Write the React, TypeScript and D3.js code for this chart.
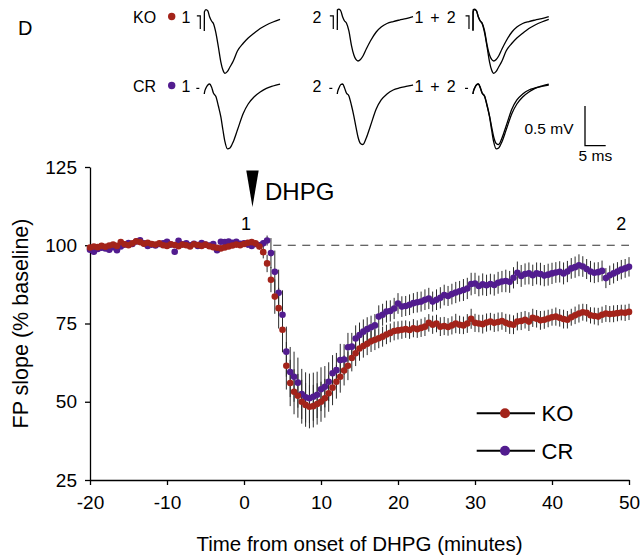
import React, { useEffect, useRef } from "react";
import * as d3 from "d3";

const W = 644;
const H = 559;
const FONT = "'Liberation Sans', Arial, Helvetica, sans-serif";

// minutes from onset of DHPG, one sample every 30 s
const minutes = d3.range(-20, 50.25, 0.5);

// FP slope (% baseline)
const koSlope = [
  99.3, 99.6, 99.4, 99.8, 99.5, 99.9, 100.2, 99.8, 101.0, 100.3,
  100.0, 100.6, 101.3, 101.0, 100.5, 100.8, 100.4, 100.2, 100.6, 100.0,
  99.8, 100.3, 100.1, 99.7, 100.2, 100.0, 99.6, 100.3, 100.1, 99.8,
  100.2, 99.7, 99.4, 99.2, 99.0, 99.3, 99.6, 99.9, 100.2, 100.0,
  100.4, 100.8, 101.0, 100.6, 99.6, 97.8, 94.2, 89.0, 83.6, 79.9,
  73.0, 61.5, 56.0, 53.2, 51.9, 50.0, 49.0, 48.4, 48.6, 49.3,
  50.0, 51.1, 52.7, 54.5, 56.4, 58.0, 60.0, 61.5, 64.0, 65.5,
  67.0, 67.8, 68.5, 69.3, 69.8, 70.3, 70.8, 71.5, 72.0, 72.6,
  72.8, 73.0, 73.2, 72.9, 73.5, 73.2, 73.6, 74.0, 75.2, 74.6,
  75.0, 74.0, 74.2, 73.9, 74.4, 75.0, 74.6, 74.4, 75.0, 76.5,
  75.2, 75.0, 74.8, 75.3, 75.6, 75.2, 75.5, 75.8, 75.2, 74.8,
  74.6, 75.6, 75.8, 76.2, 75.6, 76.8, 76.5, 76.0, 76.2, 76.6,
  77.0, 77.2, 76.8, 76.4, 76.2, 77.0, 77.6, 78.2, 78.6, 78.4,
  77.6, 77.4, 77.2, 77.8, 78.2, 78.0, 78.1, 78.3, 78.5, 78.4,
  78.7,
];
const koSem = [
  0.6, 0.6, 0.7, 0.6, 0.5, 0.6, 0.7, 0.6, 0.8, 0.6,
  0.6, 0.7, 0.8, 0.7, 0.6, 0.6, 0.5, 0.6, 0.7, 0.6,
  0.6, 0.5, 0.6, 0.6, 0.7, 0.6, 0.5, 0.6, 0.6, 0.7,
  0.6, 0.6, 0.7, 0.8, 0.8, 0.7, 0.6, 0.6, 0.5, 0.6,
  0.6, 0.7, 0.7, 0.8, 1.0, 2.0, 2.8, 4.0, 5.5, 6.5,
  7.2, 7.6, 7.4, 7.2, 7.0, 7.0, 7.0, 6.9, 6.8, 6.6,
  6.4, 6.2, 5.9, 5.6, 5.4, 5.1, 4.8, 4.6, 4.3, 4.1,
  3.9, 3.7, 3.6, 3.4, 3.3, 3.2, 3.2, 3.1, 3.0, 3.0,
  2.9, 2.9, 2.8, 2.8, 2.9, 2.8, 2.9, 3.0, 2.8, 2.9,
  2.8, 3.0, 2.9, 2.8, 2.9, 3.1, 2.9, 2.8, 3.0, 3.2,
  2.9, 2.8, 3.0, 2.9, 2.8, 2.9, 3.0, 2.8, 2.9, 3.1,
  3.0, 2.8, 2.9, 2.8, 3.0, 2.9, 2.8, 3.0, 2.9, 2.8,
  2.7, 2.9, 2.8, 3.0, 2.8, 2.7, 2.8, 2.9, 2.7, 2.8,
  2.6, 2.7, 2.8, 2.6, 2.7, 2.6, 2.7, 2.6, 2.5, 2.6,
  2.6,
];
const crSlope = [
  98.6, 97.9, 98.8, 99.2, 99.0, 98.6, 99.4, 98.4, 99.6, 100.2,
  100.7, 100.4, 101.2, 101.6, 100.6, 99.8, 100.2, 99.9, 100.4, 100.6,
  101.1, 100.2, 97.9, 101.4, 100.3, 100.6, 100.0, 100.5, 99.8, 100.7,
  100.2, 99.9, 100.4, 98.4, 101.1, 101.0, 101.2, 100.8, 101.1, 100.5,
  100.6, 100.2, 99.8, 100.4, 100.0, 100.6, 101.5, 97.5, 91.5, 84.8,
  77.8, 66.0, 59.5, 58.0, 56.1, 52.5, 51.4, 51.1, 51.6, 52.2,
  54.0, 54.8, 56.4, 59.1, 60.1, 63.3, 63.5, 67.4, 67.6, 70.2,
  71.3, 72.4, 73.2, 73.8, 74.4, 77.2, 77.8, 78.8, 79.0, 79.8,
  81.4, 80.4, 80.6, 81.0, 81.5, 81.8, 82.0, 82.6, 83.0, 82.0,
  82.6, 83.2, 84.1, 83.8, 84.4, 84.9, 85.3, 85.7, 86.2, 87.6,
  87.8, 87.0, 87.5, 87.2, 87.6, 87.3, 88.0, 88.4, 88.6, 88.3,
  89.6, 91.2, 90.2, 90.8, 91.0, 90.4, 91.0, 90.8, 90.3, 90.6,
  91.0, 91.3, 91.5, 91.0, 91.6, 92.6, 93.0, 93.6, 93.2, 92.4,
  91.6, 91.2, 91.4, 91.8, 89.5, 90.4, 91.0, 91.6, 92.2, 92.6,
  93.1,
];
const crSem = [
  0.8, 0.9, 0.8, 0.7, 0.8, 0.9, 0.8, 0.7, 0.8, 0.7,
  0.8, 0.9, 0.8, 0.7, 0.8, 0.8, 0.9, 0.8, 0.7, 0.8,
  0.8, 0.7, 0.9, 0.8, 0.8, 0.7, 0.8, 0.8, 0.7, 0.8,
  0.8, 0.9, 0.8, 0.9, 0.8, 0.7, 0.8, 0.8, 0.7, 0.8,
  0.8, 0.7, 0.8, 0.8, 0.9, 1.0, 1.6, 4.8, 6.8, 7.4,
  7.8, 8.0, 8.0, 8.0, 8.0, 8.0, 8.0, 7.9, 7.7, 7.4,
  7.0, 6.6, 6.2, 5.8, 5.5, 5.2, 4.9, 4.6, 4.4, 4.2,
  4.0, 3.9, 3.8, 3.7, 3.6, 3.6, 3.5, 3.5, 3.4, 3.4,
  3.3, 3.3, 3.2, 3.3, 3.2, 3.3, 3.2, 3.3, 3.4, 3.2,
  3.3, 3.4, 3.3, 3.2, 3.3, 3.4, 3.3, 3.5, 3.4, 3.6,
  3.4, 3.3, 3.5, 3.4, 3.3, 3.4, 3.5, 3.4, 3.6, 3.5,
  3.4, 3.6, 3.5, 3.4, 3.5, 3.4, 3.5, 3.6, 3.4, 3.5,
  3.4, 3.3, 3.4, 3.5, 3.4, 3.3, 3.4, 3.5, 3.3, 3.2,
  3.4, 3.3, 3.2, 3.3, 3.2, 3.1, 3.2, 3.0, 3.1, 3.0,
  3.1,
];

const xTicks = [-20, -10, 0, 10, 20, 30, 40, 50];
const yTicks = [25, 50, 75, 100, 125];

// example field potentials: time (ms) after stimulus, mV relative to baseline
const traceMs = [0, 0.02, 0.4, 0.85, 1.3, 1.75, 2.2, 2.8, 3.4, 4.0, 4.5, 5.0, 5.6, 6.2, 7.0, 8.0, 9.4, 10.6, 12.0, 13.5, 15.0, 16.6, 18.3];
const ko1 = [-0.176, 0.063, 0.094, 0.076, 0.0, -0.05, -0.082, -0.2, -0.378, -0.567, -0.668, -0.71, -0.686, -0.63, -0.554, -0.428, -0.331, -0.264, -0.205, -0.145, -0.101, -0.063, -0.029];
const ko2 = [-0.164, 0.088, 0.1, 0.076, 0.0, -0.05, -0.076, -0.176, -0.353, -0.479, -0.535, -0.554, -0.535, -0.491, -0.403, -0.302, -0.189, -0.126, -0.082, -0.057, -0.038, -0.02, 0.004];
const cr1 = [-0.1, -0.088, -0.025, 0.013, 0.025, -0.013, -0.088, -0.132, -0.252, -0.39, -0.554, -0.705, -0.793, -0.781, -0.701, -0.554, -0.346, -0.227, -0.139, -0.076, -0.031, 0.0, 0.025];
const cr2 = [-0.1, -0.088, -0.025, 0.019, 0.025, -0.025, -0.088, -0.126, -0.239, -0.378, -0.516, -0.642, -0.724, -0.737, -0.655, -0.504, -0.29, -0.176, -0.101, -0.05, -0.025, -0.006, 0.013];
const koArtifact: [number, number][] = [[-1.8, 0.013], [-0.97, 0.013], [-0.97, -0.151]];
const crArtifact: [number, number][] = [[-1.93, -0.03], [-1.2, -0.03]];

const KO_COLOR = "#a3231a";
const CR_COLOR = "#521c8f";

const App = () => {
  const ref = useRef<SVGSVGElement>(null);

  useEffect(() => {
    const svg = d3.select(ref.current);
    svg.selectAll("*").remove();

    const x = d3.scaleLinear().domain([-20, 50]).range([90, 629]);
    const y = d3.scaleLinear().domain([25, 125]).range([480, 167]);

    // axes (plain hyphen for negatives, as in the figure)
    const yAxis = d3.axisLeft(y).tickValues(yTicks).tickSize(5).tickSizeOuter(0).tickPadding(8)
      .tickFormat((d) => String(d));
    const xAxis = d3.axisBottom(x).tickValues(xTicks).tickSize(5).tickSizeOuter(0).tickPadding(11)
      .tickFormat((d) => String(d));

    const gy = svg.append("g").attr("transform", `translate(${x(-20)},0)`).call(yAxis);
    const gx = svg.append("g").attr("transform", `translate(0,${y(25)})`).call(xAxis);
    [gx, gy].forEach((g) => {
      g.attr("font-family", FONT).attr("font-size", 19);
      g.selectAll("path, line").attr("stroke", "#000").attr("stroke-width", 1.3);
      g.selectAll("text").attr("fill", "#000");
    });

    svg.append("text")
      .attr("transform", `translate(28,${(y(25) + y(125)) / 2}) rotate(-90)`)
      .attr("text-anchor", "middle")
      .attr("font-family", FONT).attr("font-size", 21.5)
      .text("FP slope (% baseline)");
    svg.append("text")
      .attr("x", (x(-20) + x(50)) / 2).attr("y", 551)
      .attr("text-anchor", "middle")
      .attr("font-family", FONT).attr("font-size", 20.5)
      .text("Time from onset of DHPG (minutes)");

    // baseline reference
    svg.append("line")
      .attr("x1", x(3.8)).attr("x2", x(50))
      .attr("y1", y(100)).attr("y2", y(100))
      .attr("stroke", "#333").attr("stroke-width", 1.2)
      .attr("stroke-dasharray", "8,6.5");

    const series = [
      { name: "CR", values: crSlope, sem: crSem, color: CR_COLOR },
      { name: "KO", values: koSlope, sem: koSem, color: KO_COLOR },
    ];

    series.forEach((s) => {
      svg.append("g")
        .selectAll("line")
        .data(s.values)
        .join("line")
        .attr("x1", (d, i) => x(minutes[i]))
        .attr("x2", (d, i) => x(minutes[i]))
        .attr("y1", (d, i) => y(d - s.sem[i]))
        .attr("y2", (d, i) => y(d + s.sem[i]))
        .attr("stroke", "#2a2a2a")
        .attr("stroke-width", 1);
    });

    series.forEach((s) => {
      svg.append("g")
        .selectAll("circle")
        .data(s.values)
        .join("circle")
        .attr("cx", (d, i) => x(minutes[i]))
        .attr("cy", (d) => y(d))
        .attr("r", 3.3)
        .attr("fill", s.color);
    });

    // DHPG marker and time labels
    const xa = x(1.1);
    svg.append("path")
      .attr("d", `M${xa - 6.2},170.5 L${xa + 6.2},170.5 L${xa},207 Z`)
      .attr("fill", "#000");
    svg.append("text").attr("x", 265).attr("y", 200)
      .attr("font-family", FONT).attr("font-size", 24).text("DHPG");
    svg.append("text").attr("x", x(0.25)).attr("y", 229.5).attr("text-anchor", "middle")
      .attr("font-family", FONT).attr("font-size", 18).text("1");
    svg.append("text").attr("x", x(49)).attr("y", 230).attr("text-anchor", "middle")
      .attr("font-family", FONT).attr("font-size", 18).text("2");

    // legend
    [
      { name: "KO", color: KO_COLOR, ly: 413.3 },
      { name: "CR", color: CR_COLOR, ly: 450.7 },
    ].forEach((l) => {
      svg.append("line").attr("x1", 476.7).attr("x2", 535).attr("y1", l.ly).attr("y2", l.ly)
        .attr("stroke", "#000").attr("stroke-width", 2);
      svg.append("circle").attr("cx", 505).attr("cy", l.ly).attr("r", 5).attr("fill", l.color);
      svg.append("text").attr("x", 541.5).attr("y", l.ly + 8)
        .attr("font-family", FONT).attr("font-size", 22).text(l.name);
    });

    // panel label
    svg.append("text").attr("x", 18).attr("y", 35)
      .attr("font-family", FONT).attr("font-size", 20).text("D");

    // example traces
    const ms = d3.scaleLinear().domain([0, 5]).range([0, 20.7]);
    const mv = d3.scaleLinear().domain([0, 0.5]).range([0, -39.7]);
    const panelX = [204.3, 337.3, 473];
    const rows = [
      { name: "KO", color: KO_COLOR, y0: 17, t1: ko1, t2: ko2, art: koArtifact },
      { name: "CR", color: CR_COLOR, y0: 86, t1: cr1, t2: cr2, art: crArtifact },
    ];

    rows.forEach((r) => {
      const ty = r.y0 + 5.8;
      const label = (tx: number, s: string) =>
        svg.append("text").attr("x", tx).attr("y", ty)
          .attr("font-family", FONT).attr("font-size", 16).text(s);
      label(133, r.name);
      svg.append("circle").attr("cx", 171.7).attr("cy", r.y0 - 0.5).attr("r", 3.7).attr("fill", r.color);
      label(181.5, "1");
      label(312.5, "2");
      label(414.5, "1 + 2").attr("word-spacing", 2.5);

      const panels = [[r.t1], [r.t2], [r.t1, r.t2]];
      panels.forEach((traces, p) => {
        const px = panelX[p];
        const art = d3.line<[number, number]>()
          .x((d) => px + ms(d[0]))
          .y((d) => r.y0 + mv(d[1]));
        svg.append("path").attr("d", art(r.art))
          .attr("fill", "none").attr("stroke", "#000").attr("stroke-width", 1.2);
        const line = d3.line<number>()
          .x((d, i) => px + ms(traceMs[i]))
          .y((d) => r.y0 + mv(d))
          .curve(d3.curveMonotoneX);
        traces.forEach((t) => {
          svg.append("path").attr("d", line(t))
            .attr("fill", "none").attr("stroke", "#000").attr("stroke-width", 1.3);
        });
      });
    });

    // scale bar
    const sx = 585;
    const sy = 145.7;
    svg.append("path")
      .attr("d", `M${sx},${sy + mv(0.5)} L${sx},${sy} L${sx + ms(5)},${sy}`)
      .attr("fill", "none").attr("stroke", "#000").attr("stroke-width", 1.3);
    svg.append("text").attr("x", 573.5).attr("y", 133.5).attr("text-anchor", "end")
      .attr("font-family", FONT).attr("font-size", 15.5).text("0.5 mV");
    svg.append("text").attr("x", sx + ms(5) / 2).attr("y", 161).attr("text-anchor", "middle")
      .attr("font-family", FONT).attr("font-size", 15.5).text("5 ms");
  }, []);

  return (
    <svg
      ref={ref}
      width={W}
      height={H}
      style={{ position: "absolute", left: 0, top: 0, background: "#fff" }}
    />
  );
};

export default App;
